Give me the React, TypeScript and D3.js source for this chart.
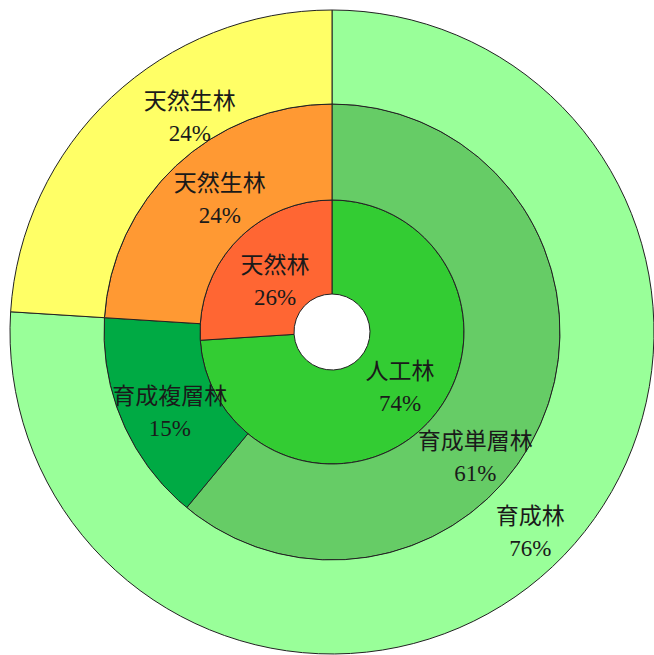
import React from "react";
import * as d3 from "d3";

// inner ring
const innerLabels = ["人工林", "天然林"];
const innerValues = [74, 26];
// middle ring
const middleLabels = ["育成単層林", "育成複層林", "天然生林"];
const middleValues = [61, 15, 24];
// outer ring
const outerLabels = ["育成林", "天然生林"];
const outerValues = [76, 24];

const W = 654;
const H = 655;
const cx = 332;
const cy = 332;

const rings = [
  {
    labels: innerLabels,
    values: innerValues,
    r0: 38,
    r1: 132,
    colors: ["#33CC33", "#FF6633"],
    nudge: [[6, -4], [5, 6]],
  },
  {
    labels: middleLabels,
    values: middleValues,
    r0: 132,
    r1: 228,
    colors: ["#66CC66", "#00AA44", "#FF9933"],
    nudge: [[-26, 63], [3, 8], [11, -3]],
  },
  {
    labels: outerLabels,
    values: outerValues,
    r0: 228,
    r1: 322,
    colors: ["#99FF99", "#FFFF66"],
    nudge: [[10, -1], [46, -16]],
  },
];

const font = "'Liberation Serif', 'Noto Sans CJK JP', serif";

const App = () => {
  const pie = d3.pie<number>().sort(null).value((d) => d);

  return (
    <svg
      width={W}
      height={H}
      style={{ position: "absolute", left: 0, top: 0, background: "#fff" }}
    >
      <g transform={`translate(${cx},${cy})`}>
        {rings.map((ring, ri) => {
          const arc = d3
            .arc<d3.PieArcDatum<number>>()
            .innerRadius(ring.r0)
            .outerRadius(ring.r1);
          const arcs = pie(ring.values);
          return (
            <g key={ri}>
              {arcs.map((a, i) => (
                <path
                  key={i}
                  d={arc(a) || ""}
                  fill={ring.colors[i]}
                  stroke="#222"
                  strokeWidth={1}
                />
              ))}
            </g>
          );
        })}
        {rings.map((ring, ri) => {
          const arc = d3
            .arc<d3.PieArcDatum<number>>()
            .innerRadius(ring.r0)
            .outerRadius(ring.r1);
          const arcs = pie(ring.values);
          return (
            <g key={"l" + ri}>
              {arcs.map((a, i) => {
                const [x, y] = arc.centroid(a);
                const tx = x + ring.nudge[i][0];
                const ty = y + ring.nudge[i][1];
                return (
                  <text
                    key={i}
                    textAnchor="middle"
                    fontFamily={font}
                    fontSize={23}
                    fill="#1a1a1a"
                  >
                    <tspan x={tx} y={ty - 7}>
                      {ring.labels[i]}
                    </tspan>
                    <tspan x={tx} y={ty + 25}>
                      {ring.values[i] + "%"}
                    </tspan>
                  </text>
                );
              })}
            </g>
          );
        })}
      </g>
    </svg>
  );
};

export default App;
